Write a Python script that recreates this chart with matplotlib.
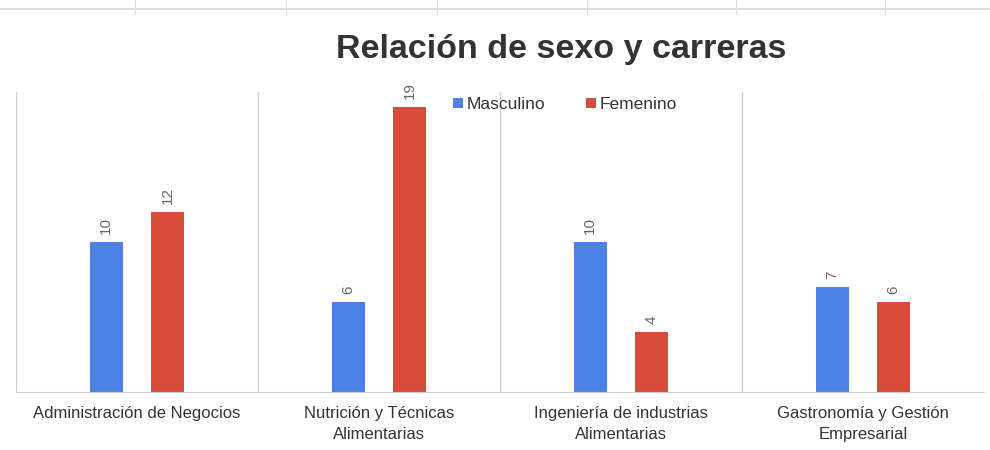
import matplotlib
matplotlib.use("Agg")
import matplotlib.pyplot as plt
import numpy as np
from matplotlib.lines import Line2D

plt.rcParams["font.family"] = ["Liberation Sans", "DejaVu Sans"]

# data
carreras = ["Administración de Negocios", "Nutrición y Técnicas\nAlimentarias",
            "Ingeniería de industrias\nAlimentarias", "Gastronomía y Gestión\nEmpresarial"]
masculino = [10, 6, 10, 7]
femenino = [12, 19, 4, 6]

BLUE = "#4C82E8"
RED = "#D84B3B"
GRID = "#CFCFCF"
TXT = "#333333"
VAL = "#666666"

fig = plt.figure(figsize=(9.9, 4.5), dpi=100, facecolor="white")
ax = fig.add_axes([0.0162, 0.129, 0.978, 0.667])

x = np.arange(len(carreras))
w = 0.136
ax.bar(x - 0.128, masculino, w, color=BLUE, label="Masculino")
ax.bar(x + 0.126, femenino, w, color=RED, label="Femenino")

for xi, v in zip(x - 0.128, masculino):
    ax.text(xi, v + 0.5, str(v), rotation=90, ha="center", va="bottom", color=VAL, fontsize=11)
for xi, v in zip(x + 0.126, femenino):
    ax.text(xi, v + 0.5, str(v), rotation=90, ha="center", va="bottom", color=VAL, fontsize=11)

# category separators
for b in np.arange(-0.5, len(carreras), 1.0):
    ax.axvline(b, color=GRID, lw=1, zorder=0)

ax.set_xlim(-0.5, len(carreras) - 0.5)
ax.set_ylim(0, 20)
ax.set_yticks([])
ax.set_xticks(x)
ax.set_xticklabels(carreras, fontsize=12, color=TXT, linespacing=1.5)
ax.tick_params(axis="x", length=0, pad=10)
for s in ["top", "left", "right"]:
    ax.spines[s].set_visible(False)
ax.spines["bottom"].set_color(GRID)

fig.text(0.567, 0.89, "Relación de sexo y carreras", ha="center", va="center",
         fontsize=24.5, fontweight="bold", color=TXT)

leg = ax.legend(loc="center", bbox_to_anchor=(0.567, 0.958), ncol=2, frameon=False,
                fontsize=12.5, handlelength=0.55, handleheight=0.55, handletextpad=0.2,
                columnspacing=2.4)
for t in leg.get_texts():
    t.set_color(TXT)

# faint spreadsheet border at the top
fig.add_artist(Line2D([0, 1], [0.981, 0.981], color="#DDDDDD", lw=1.5))
for tx in [135, 286, 437, 587, 736, 885]:
    fig.add_artist(Line2D([tx / 990, tx / 990], [0.97, 1.0], color="#DDDDDD", lw=0.8))

fig.savefig("out.png", dpi=100, facecolor="white")
